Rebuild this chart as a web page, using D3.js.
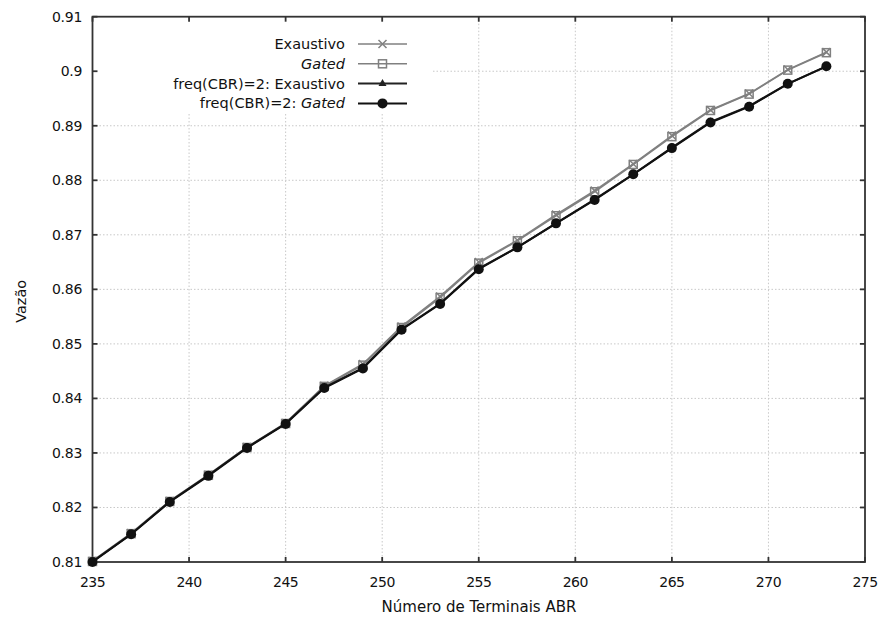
<!DOCTYPE html>
<html><head><meta charset="utf-8">
<script src="https://cdn.jsdelivr.net/npm/d3@7"></script>
<style>body{margin:0;background:#fff}svg{display:block}text{font-family:"DejaVu Sans",Verdana,sans-serif;}</style>
</head><body><div id="chart"></div>
<script>
const terminals = [235,237,239,241,243,245,247,249,251,253,255,257,259,261,263,265,267,269,271,273];
const exaustivo = [0.8102,0.8153,0.8212,0.8260,0.8311,0.8355,0.8423,0.8463,0.8532,0.8587,0.8650,0.8690,0.8737,0.8781,0.8830,0.8882,0.8929,0.8959,0.9003,0.9035];
const gated = [0.8101,0.8152,0.8211,0.8259,0.8310,0.8354,0.8422,0.8461,0.8530,0.8585,0.8648,0.8689,0.8735,0.8779,0.8829,0.8880,0.8928,0.8958,0.9002,0.9034];
const freq2Exaustivo = [0.8101,0.8151,0.8211,0.8259,0.8310,0.8354,0.8420,0.8456,0.8527,0.8574,0.8638,0.8677,0.8721,0.8765,0.8811,0.8860,0.8907,0.8936,0.8977,0.9009];
const freq2Gated = [0.8100,0.8151,0.8210,0.8258,0.8309,0.8353,0.8419,0.8455,0.8526,0.8573,0.8637,0.8677,0.8721,0.8764,0.8811,0.8859,0.8906,0.8935,0.8977,0.9009];
const xTicks = [235,240,245,250,255,260,265,270,275];
const yTicks = [0.81,0.82,0.83,0.84,0.85,0.86,0.87,0.88,0.89,0.9,0.91];
const yTickLabels = ["0.81","0.82","0.83","0.84","0.85","0.86","0.87","0.88","0.89","0.9","0.91"];
const seriesNames = ["Exaustivo","Gated","freq(CBR)=2: Exaustivo","freq(CBR)=2: Gated"];

const W=883,H=619;
const L=92.5,R=865,T=16.7,B=562;
const svg=d3.select("#chart").append("svg").attr("width",W).attr("height",H);
const x=d3.scaleLinear().domain([235,275]).range([L,R]);
const y=d3.scaleLinear().domain([0.81,0.91]).range([B,T]);

// legend box region (grid cleared there)
const keyBox={x0:L,x1:433,y0:T,y1:114};

// grid
const grid=svg.append("g").attr("stroke","#c8c8c8").attr("stroke-width",1).attr("stroke-dasharray","1.5,2");
xTicks.slice(1,-1).forEach(v=>{
  const xv=x(v);
  const top = (xv>keyBox.x0 && xv<keyBox.x1)? keyBox.y1 : T;
  grid.append("line").attr("x1",xv).attr("x2",xv).attr("y1",top).attr("y2",B);
});
yTicks.slice(1,-1).forEach(v=>{
  const yv=y(v);
  const left = (yv>keyBox.y0 && yv<keyBox.y1)? keyBox.x1 : L;
  grid.append("line").attr("x1",left).attr("x2",R).attr("y1",yv).attr("y2",yv);
});

// axes
const ax=svg.append("g").attr("stroke","#333").attr("stroke-width",1.8);
const tl=5;
xTicks.forEach(v=>{
  ax.append("line").attr("x1",x(v)).attr("x2",x(v)).attr("y1",B).attr("y2",B-tl);
  ax.append("line").attr("x1",x(v)).attr("x2",x(v)).attr("y1",T).attr("y2",T+tl);
});
yTicks.forEach(v=>{
  ax.append("line").attr("x1",L).attr("x2",L+tl).attr("y1",y(v)).attr("y2",y(v));
  ax.append("line").attr("x1",R).attr("x2",R-tl).attr("y1",y(v)).attr("y2",y(v));
});
svg.append("rect").attr("x",L).attr("y",T).attr("width",R-L).attr("height",B-T)
  .attr("fill","none").attr("stroke","#333").attr("stroke-width",1.8);

const lab=svg.append("g").attr("font-size",14).attr("fill","#111");
xTicks.forEach(v=>lab.append("text").attr("x",x(v)).attr("y",B+25).attr("text-anchor","middle").attr("letter-spacing","-0.5").text(v));
yTicks.forEach((v,i)=>lab.append("text").attr("x",82).attr("y",y(v)+5).attr("text-anchor","end").attr("letter-spacing","-0.3").text(yTickLabels[i]));

svg.append("text").attr("x",479).attr("y",612).attr("text-anchor","middle").attr("font-size",15).attr("fill","#111").text("Número de Terminais ABR");
svg.append("text").attr("transform","translate(26,"+((T+B)/2+12)+") rotate(-90)").attr("text-anchor","middle").attr("font-size",14.5).attr("fill","#111").text("Vazão");

// series
const series=[
  {name:seriesNames[0],vals:exaustivo,color:"#808080",w:1.6,marker:"x"},
  {name:seriesNames[1],vals:gated,color:"#808080",w:1.6,marker:"square"},
  {name:seriesNames[2],vals:freq2Exaustivo,color:"#222",w:2,marker:"triangle"},
  {name:seriesNames[3],vals:freq2Gated,color:"#111",w:2,marker:"circle"}
];
const line=d3.line().x((d,i)=>x(terminals[i])).y(d=>y(d));
function marker(g,type,cx,cy,color){
  if(type==="x"){
    const s=4;
    g.append("path").attr("d",`M${cx-s},${cy-s}L${cx+s},${cy+s}M${cx-s},${cy+s}L${cx+s},${cy-s}`).attr("stroke",color).attr("stroke-width",1.5).attr("fill","none");
  } else if(type==="square"){
    g.append("rect").attr("x",cx-4).attr("y",cy-4).attr("width",8).attr("height",8).attr("fill","none").attr("stroke",color).attr("stroke-width",1.5);
  } else if(type==="triangle"){
    g.append("path").attr("d",d3.symbol(d3.symbolTriangle,28)()).attr("transform",`translate(${cx},${cy})`).attr("fill",color);
  } else {
    g.append("circle").attr("cx",cx).attr("cy",cy).attr("r",5).attr("fill",color);
  }
}
series.forEach(s=>{
  const g=svg.append("g");
  g.append("path").datum(s.vals).attr("d",line).attr("fill","none").attr("stroke",s.color).attr("stroke-width",s.w);
  s.vals.forEach((v,i)=>marker(g,s.marker,x(terminals[i]),y(v),s.color));
});

// legend
const lg=svg.append("g");
series.forEach((s,i)=>{
  const ly=44+i*19.8;
  const t=lg.append("text").attr("x",345).attr("y",ly+5).attr("text-anchor","end").attr("font-size",14.5).attr("fill","#111");
  if(s.name.indexOf("Gated")>=0){
    const pre=s.name.replace("Gated","");
    if(pre) t.append("tspan").text(pre);
    t.append("tspan").attr("font-style","italic").text("Gated");
  } else t.text(s.name);
  lg.append("line").attr("x1",358).attr("x2",407).attr("y1",ly).attr("y2",ly).attr("stroke",s.color).attr("stroke-width",s.w);
  marker(lg,s.marker,382.5,ly,s.color);
});
</script></body></html>
